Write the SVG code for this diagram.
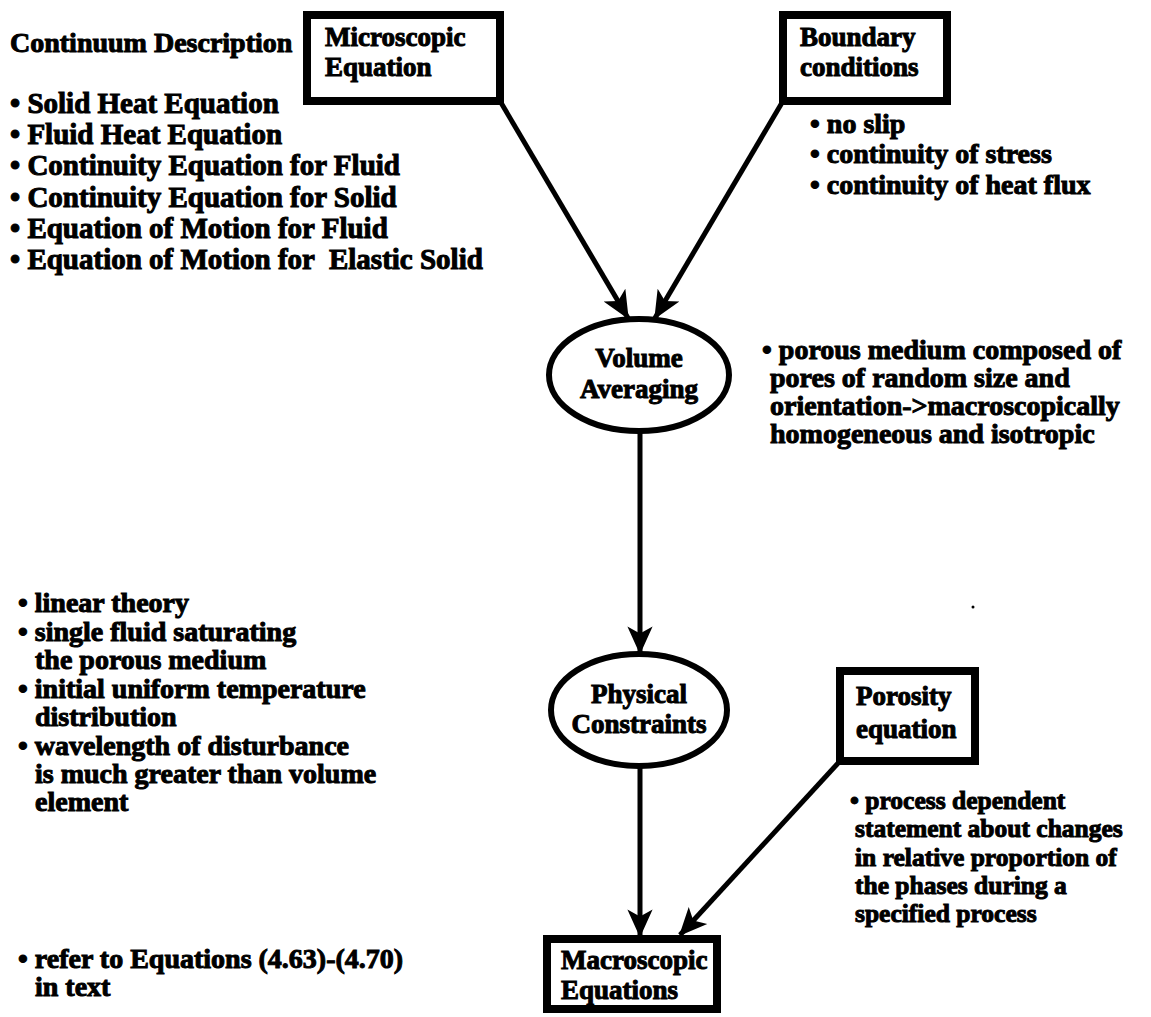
<svg xmlns="http://www.w3.org/2000/svg" width="1151" height="1017" viewBox="0 0 1151 1017">
<style>
text{font-family:"Liberation Serif","Times New Roman",serif;font-weight:bold;font-size:28px;fill:#000;stroke:#000;stroke-width:1px;white-space:pre}
.lbl{font-size:27px}
.big{font-size:29px}
.sm{font-size:25.5px}
.box{fill:#fff;stroke:#000;stroke-width:8}
.ell{fill:#fff;stroke:#000;stroke-width:6}
.conn{stroke:#000;stroke-width:5;fill:none;marker-end:url(#ah)}
</style>
<defs>
<marker id="ah" viewBox="0 0 10 10" refX="9.5" refY="5" markerWidth="5.6" markerHeight="5.6" orient="auto" markerUnits="strokeWidth">
<path d="M0,0.5 L10,5 L0,9.5 L2.5,5 Z" fill="#000"/>
</marker>
</defs>
<rect width="1151" height="1017" fill="#fff"/>
<g id="connectors">
<line class="conn" x1="500" y1="101" x2="628" y2="318"/>
<line class="conn" x1="783" y1="101" x2="655" y2="318"/>
<line class="conn" x1="640" y1="432" x2="640" y2="653"/>
<line class="conn" x1="640" y1="766" x2="640" y2="936"/>
<line class="conn" x1="840" y1="761" x2="680" y2="935"/>
</g>
<g id="continuum-notes">
<text x="10" y="52">Continuum Description</text>
<text class="big" x="10" y="113">• Solid Heat Equation</text>
<text class="big" x="10" y="144">• Fluid Heat Equation</text>
<text class="big" x="10" y="175">• Continuity Equation for Fluid</text>
<text class="big" x="10" y="207">• Continuity Equation for Solid</text>
<text class="big" x="10" y="238">• Equation of Motion for Fluid</text>
<text class="big" x="10" y="269" xml:space="preserve">• Equation of Motion for  Elastic Solid</text>
</g>
<g id="microscopic">
<rect class="box" x="307" y="15" width="193" height="86"/>
<text class="lbl" x="325" y="46">Microscopic</text>
<text class="lbl" x="325" y="76">Equation</text>
</g>
<g id="boundary">
<rect class="box" x="783" y="15" width="164" height="86"/>
<text class="lbl" x="800" y="46">Boundary</text>
<text class="lbl" x="800" y="76">conditions</text>
</g>
<g id="boundary-notes">
<text x="810" y="133">• no slip</text>
<text x="810" y="163">• continuity of stress</text>
<text x="810" y="194">• continuity of heat flux</text>
</g>
<g id="volume">
<ellipse class="ell" cx="639" cy="375" rx="90" ry="56"/>
<text class="lbl" x="639" y="367" text-anchor="middle">Volume</text>
<text class="lbl" x="639" y="398" text-anchor="middle">Averaging</text>
</g>
<g id="volume-notes">
<text x="762" y="359">• porous medium composed of</text>
<text x="770" y="387">pores of random size and</text>
<text x="770" y="415">orientation-&gt;macroscopically</text>
<text x="770" y="443">homogeneous and isotropic</text>
</g>
<g id="constraint-notes">
<text x="18" y="612">• linear theory</text>
<text x="18" y="641">• single fluid saturating</text>
<text x="35" y="669">the porous medium</text>
<text x="18" y="698">• initial uniform temperature</text>
<text x="35" y="726">distribution</text>
<text x="18" y="755">• wavelength of disturbance</text>
<text x="35" y="783">is much greater than volume</text>
<text x="35" y="811">element</text>
</g>
<g id="physical">
<ellipse class="ell" cx="639" cy="710" rx="88" ry="56"/>
<text class="lbl" x="639" y="703" text-anchor="middle">Physical</text>
<text class="lbl" x="639" y="733" text-anchor="middle">Constraints</text>
</g>
<g id="porosity">
<rect class="box" x="840" y="671" width="135" height="90"/>
<text class="lbl" x="856" y="705">Porosity</text>
<text class="lbl" x="856" y="738">equation</text>
</g>
<g id="porosity-notes">
<text class="sm" x="850" y="809">• process dependent</text>
<text class="sm" x="855" y="837">statement about changes</text>
<text class="sm" x="855" y="866">in relative proportion of</text>
<text class="sm" x="855" y="894">the phases during a</text>
<text class="sm" x="855" y="922">specified process</text>
</g>
<g id="macroscopic">
<rect class="box" x="547" y="939" width="170" height="70"/>
<text class="lbl" x="561" y="969">Macroscopic</text>
<text class="lbl" x="561" y="999">Equations</text>
</g>
<g id="refer-note">
<text x="18" y="968">• refer to Equations (4.63)-(4.70)</text>
<text x="35" y="996">in text</text>
</g>
<circle cx="973" cy="607" r="1.5" fill="#000"/>
</svg>
